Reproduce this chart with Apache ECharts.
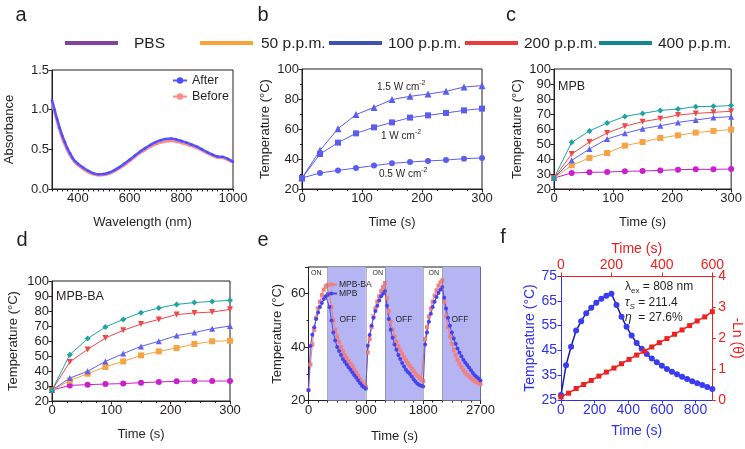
<!DOCTYPE html>
<html><head><meta charset="utf-8">
<script src="https://cdn.jsdelivr.net/npm/echarts@6/dist/echarts.min.js"></script>
<style>html,body{margin:0;padding:0;background:#fff}#c{width:745px;height:449px}</style>
</head><body><div id="c"></div><script>
const FONT = "'Liberation Sans', Arial, sans-serif";
const INK = '#231f20';
const BLUE_F = '#2f2ff0';
const RED_F = '#f02020';

// ---- Panel a : absorbance ----
const aWavelength = [300,310,320,330,340,350,360,370,380,390,400,420,440,460,480,500,520,540,560,580,600,620,640,660,680,700,720,740,760,780,800,820,840,860,880,900,920,940,960,980,1000];
const aAfter  = [1.12,1.0,0.88,0.77,0.67,0.59,0.51,0.45,0.39,0.35,0.32,0.27,0.23,0.2,0.185,0.19,0.205,0.235,0.275,0.32,0.37,0.42,0.47,0.515,0.555,0.59,0.615,0.63,0.635,0.625,0.605,0.585,0.56,0.535,0.5,0.465,0.435,0.41,0.405,0.38,0.345];
const aBefore = [1.08,0.96,0.84,0.73,0.63,0.55,0.48,0.42,0.37,0.33,0.3,0.25,0.21,0.185,0.17,0.175,0.19,0.22,0.26,0.3,0.35,0.4,0.45,0.49,0.53,0.56,0.585,0.6,0.605,0.595,0.58,0.56,0.54,0.515,0.485,0.45,0.42,0.395,0.39,0.365,0.335];

// ---- Panel b : power dependence ----
const heatTime = [0,30,60,90,120,150,180,210,240,270,300];
const bPower15 = [27.3,45.8,60.2,69.6,74.4,79.6,81.8,83.3,85.1,88,88.9];
const bPower10 = [27.3,43.3,50.9,57.1,61.1,64.4,67.6,69.1,70.7,72.4,73.6];
const bPower05 = [27.3,30.7,32.4,34,35.6,37.1,38,38.7,39.3,40.2,40.7];

// ---- Panel c : MPB concentrations ----
const concNames = ['PBS','50 p.p.m.','100 p.p.m.','200 p.p.m.','400 p.p.m.'];
const cPBS = [27.3,30.7,31.1,31.3,31.8,32,32.4,32.9,33.1,33.1,33.3];
const c50  = [27.3,35.8,40.7,44,48.9,51.3,54,55.8,57.6,58.7,59.6];
const c100 = [27.3,39.1,46.7,53.3,57.1,60.2,62.2,64.4,66,67.6,68.2];
const c200 = [27.3,43.3,51.3,57.3,61.8,64.9,66.9,69.3,70.4,71.1,71.8];
const c400 = [27.3,51.1,58.7,64,68.4,70.4,72.4,73.3,74.9,75.1,75.6];

// ---- Panel d : MPB-BA concentrations ----
const dPBS = [27.3,30.4,30.9,31.3,31.6,32.2,32.7,33.1,33.3,33.3,33.3];
const d50  = [27.3,33.6,38.2,42.7,46.4,50.4,53.1,55.3,58,59.8,60.2];
const d100 = [27.3,35.3,39.8,46.4,51.6,56.4,59.8,63.6,65.6,68.2,70];
const d200 = [27.3,46,54.4,62,67.1,71.3,74.4,77.6,78.7,79.3,81.1];
const d400 = [27.3,50.9,61.6,69.3,74.4,78.9,82,84.4,85.6,86.4,87.1];

// ---- Panel e : on/off cycles ----
const eTime = [0,30,60,90,120,150,180,210,240,270,300,330,360,390,420,450,480,510,540,570,600,630,660,690,720,750,780,810,840,870,900,930,960,990,1020,1050,1080,1110,1140,1170,1200,1230,1260,1290,1320,1350,1380,1410,1440,1470,1500,1530,1560,1590,1620,1650,1680,1710,1740,1770,1800,1830,1860,1890,1920,1950,1980,2010,2040,2070,2100,2130,2160,2190,2220,2250,2280,2310,2340,2370,2400,2430,2460,2490,2520,2550,2580,2610,2640,2670,2700];
const eMPBBA = [24,33.5,41,46.5,51,54.5,57,59.5,61.5,62.8,63.2,
  60,55,50,46.5,44,42,40,38.5,37,35.8,34.8,33.8,32.8,31.5,30.3,29.2,28,26.8,25.8,25,
  38,43,47.5,51.5,54.5,57,59,61,62.5,64,
  58.5,53.5,49.5,46.5,44,42,40.3,38.8,37.4,36.2,35,34,33,32,31,30,29.2,28.5,27.8,27.3,
  43,47.5,51.5,54.5,57,59.3,61.3,63,64.2,65,
  57,51.5,47.5,44,41.3,39,37,35.3,33.8,32.5,31.5,30.5,29.7,29,28.4,27.8,27.3,26.9,26.5,26.1];
const eMPB = [23.8,40.4,44.6,47.4,50.5,53,55,56.5,58,59,59.5,
  55,50,45.5,42.5,40,38.5,37,35.5,34.5,33.5,32.5,31.5,30.5,29.5,28.5,27.5,26.5,25.5,25,24.4,
  40.5,44.5,48,51,53.5,55.5,57.5,59,60,61,
  55.5,50.5,46.5,43.5,41,39,37,35.5,34,32.7,31.5,30.7,30,29,28,27,26.3,25.8,25.5,25.2,
  41,45.5,49.5,52.5,55,57,58.8,60.3,61.5,62.5,
  58.5,54.5,51,48,45.5,43.2,41.3,39.5,38,36.6,35.3,34.2,33.3,32.4,31.3,30.3,29.5,28.8,28.2,27.5];
const eOffIntervals = [[300,900],[1200,1800],[2100,2700]];
const eSwitchTimes = [300,900,1200,1800,2100];

// ---- Panel f : photothermal conversion ----
const fTime = [0,30,60,90,120,150,180,210,240,270,300,330,360,390,420,450,480,510,540,570,600,630,660,690,720,750,780,810,840,870,900];
const fTemp = [27,39,46.5,53,56.8,60,62.2,64.2,65.8,67,67.8,63.3,58.6,54.5,51,48,45.7,43.5,41.7,40.2,38.8,37.5,36.4,35.4,34.4,33.5,32.6,31.8,31,30.2,29.4];
const fCoolTime = [0,30,60,90,120,150,180,210,240,270,300,330,360,390,420,450,480,510,540,570,600];
const fLnTheta = [0.1,0.22,0.37,0.5,0.63,0.77,0.9,1.03,1.17,1.31,1.45,1.57,1.71,1.85,1.98,2.12,2.26,2.4,2.55,2.68,2.85];

function pairs(xs, ys) { return xs.map((x, i) => [x, ys[i]]); }

const chart = echarts.init(document.getElementById('c'), null, {renderer: 'canvas'});

function frame(g) { return Object.assign({show: true, borderColor: INK, borderWidth: 1, backgroundColor: 'transparent'}, g); }
function vAxis(o) {
  const color = o.color || INK;
  return {
    type: 'value', gridIndex: o.grid, position: o.position, min: o.min, max: o.max, interval: o.interval,
    axisLine: {show: true, onZero: false, lineStyle: {color: color, width: 1}},
    axisTick: {show: true, length: o.tickLen || 3.5, lineStyle: {color: color, width: 1}},
    minorTick: {show: !!o.minor, splitNumber: o.minor || 5, length: 2, lineStyle: {color: color, width: 1}},
    splitLine: {show: false},
    axisLabel: {fontFamily: FONT, fontSize: o.fs || 13, color: color, margin: o.margin == null ? 3 : o.margin,
      formatter: o.fmt || (v => String(v)), showMaxLabel: o.showMax},
    name: o.name, nameLocation: 'middle', nameGap: o.nameGap, nameRotate: o.nameRotate,
    nameTextStyle: {fontFamily: FONT, fontSize: o.nfs || 13, color: color}
  };
}

const grids = [
  frame({left: 52, top: 70, width: 181, height: 119}),
  frame({left: 302, top: 69, width: 180, height: 120}),
  frame({left: 554, top: 69, width: 178, height: 120}),
  frame({left: 52, top: 281, width: 178, height: 120}),
  frame({left: 308.5, top: 267, width: 172, height: 133.5}),
  {left: 561, top: 276, width: 153, height: 124, show: false}
];

const xAxes = [
  vAxis({grid: 0, min: 300, max: 1000, interval: 20, tickLen: 2.5, margin: 3,
    fmt: v => (v % 200 === 0 && v >= 400) ? String(v) : '', name: 'Wavelength (nm)', nameGap: 27}),
  vAxis({grid: 1, min: 0, max: 300, interval: 100, minor: 4, margin: 3, name: 'Time (s)', nameGap: 27}),
  vAxis({grid: 2, min: 0, max: 300, interval: 100, minor: 4, margin: 3, name: 'Time (s)', nameGap: 27}),
  vAxis({grid: 3, min: 0, max: 300, interval: 100, minor: 4, margin: 3, name: 'Time (s)', nameGap: 27}),
  vAxis({grid: 4, min: 0, max: 2700, interval: 900, minor: 6, margin: 3, name: 'Time (s)', nameGap: 29}),
  vAxis({grid: 5, min: 0, max: 900, interval: 200, color: BLUE_F, fs: 14, nfs: 14, margin: 3, showMax: false,
    fmt: v => v > 800 ? '' : String(v), name: 'Time (s)', nameGap: 24}),
  vAxis({grid: 5, position: 'top', min: 0, max: 600, interval: 200, color: RED_F, fs: 14, nfs: 14, margin: 4,
    name: 'Time (s)', nameGap: 20})
];
const yAxes = [
  vAxis({grid: 0, min: 0, max: 1.5, interval: 0.5, fmt: v => v.toFixed(1), name: 'Absorbance', nameGap: 36}),
  vAxis({grid: 1, min: 20, max: 100, interval: 20, minor: 2, name: 'Temperature (°C)', nameGap: 30}),
  vAxis({grid: 2, min: 20, max: 100, interval: 10, name: 'Temperature (°C)', nameGap: 30}),
  vAxis({grid: 3, min: 20, max: 100, interval: 10, name: 'Temperature (°C)', nameGap: 32}),
  vAxis({grid: 4, min: 20, max: 70, interval: 20, minor: 2, showMax: false, name: 'Temperature (°C)', nameGap: 25}),
  vAxis({grid: 5, min: 25, max: 75, interval: 10, color: BLUE_F, fs: 14, nfs: 14, margin: 4, name: 'Temperature (°C)', nameGap: 22}),
  vAxis({grid: 5, position: 'right', min: 0, max: 4, interval: 1, color: RED_F, fs: 14, nfs: 14, margin: 6,
    name: '-Ln (θ)', nameGap: 17, nameRotate: -90})
];

const series = [];
// a
series.push({name: 'Before', type: 'line', xAxisIndex: 0, yAxisIndex: 0, data: pairs(aWavelength, aBefore),
  symbol: 'none', smooth: true, lineStyle: {color: '#ff8a8a', width: 2.5}, itemStyle: {color: '#ff8a8a'}});
series.push({name: 'After', type: 'line', xAxisIndex: 0, yAxisIndex: 0, data: pairs(aWavelength, aAfter),
  symbol: 'circle', symbolSize: 2.5, smooth: true, lineStyle: {color: '#5555ff', width: 2.5}, itemStyle: {color: '#4a4aff'}});
// b
const bColor = '#5c5cef';
[[bPower15, 'triangle', 7], [bPower10, 'rect', 6], [bPower05, 'circle', 6]].forEach(([d, sym, sz], i) => {
  series.push({name: 'b' + i, type: 'line', xAxisIndex: 1, yAxisIndex: 1, data: pairs(heatTime, d),
    symbol: sym, symbolSize: sz, lineStyle: {color: bColor, width: 1}, itemStyle: {color: bColor}});
});
// c, d
const concColors = ['#cc1fcc', '#f7a243', '#5f5ff2', '#f04747', '#1fa3a3'];
const concSymbols = ['circle', 'rect', 'triangle', 'triangle', 'diamond'];
const concRot = [0, 0, 0, 180, 0];
const concSizes = [6, 6, 6, 6, 6];
[[cPBS, c50, c100, c200, c400], [dPBS, d50, d100, d200, d400]].forEach((set, p) => {
  set.forEach((d, i) => {
    series.push({name: (p ? 'MPB-BA ' : 'MPB ') + concNames[i], type: 'line', xAxisIndex: 2 + p, yAxisIndex: 2 + p,
      data: pairs(heatTime, d), symbol: concSymbols[i], symbolRotate: concRot[i], symbolSize: concSizes[i],
      lineStyle: {color: concColors[i], width: 1}, itemStyle: {color: concColors[i]}});
  });
});
// e
series.push({name: 'MPB-BA', type: 'line', xAxisIndex: 4, yAxisIndex: 4, data: pairs(eTime, eMPBBA),
  symbol: 'rect', symbolSize: 4, lineStyle: {color: '#f07a7a', width: 1}, itemStyle: {color: '#f28080'},
  markArea: {silent: true, itemStyle: {color: '#b5b5f4', opacity: 1},
    data: eOffIntervals.map(r => [{xAxis: r[0]}, {xAxis: r[1]}])},
  markLine: {silent: true, symbol: 'none', label: {show: false},
    lineStyle: {color: '#777', type: 'dotted', width: 1}, data: eSwitchTimes.map(t => ({xAxis: t}))}
});
series.push({name: 'MPB', type: 'line', xAxisIndex: 4, yAxisIndex: 4, data: pairs(eTime, eMPB),
  symbol: 'circle', symbolSize: 4, lineStyle: {color: '#4848f0', width: 1}, itemStyle: {color: '#4343f2'}});
// f
series.push({name: 'fTemp', type: 'line', xAxisIndex: 5, yAxisIndex: 5, data: pairs(fTime, fTemp),
  symbol: 'circle', symbolSize: 6, lineStyle: {color: '#1c1caa', width: 1.5}, itemStyle: {color: '#3b3bf2'}});
series.push({name: 'fLn', type: 'line', xAxisIndex: 6, yAxisIndex: 6, data: pairs(fCoolTime, fLnTheta),
  symbol: 'rect', symbolSize: 5, lineStyle: {color: RED_F, width: 1.5}, itemStyle: {color: RED_F}});

// ---- text / decorations ----
const g = [];
function txt(x, y, text, size, opts) {
  g.push(Object.assign({type: 'text', x: x, y: y, silent: true, z: 100,
    style: Object.assign({text: text, font: (size) + 'px ' + FONT, fill: INK, textAlign: 'left', textVerticalAlign: 'middle'},
      (opts && opts.style) || {})}, (opts && opts.el) || {}));
}
// panel letters
[['a', 21, 15], ['b', 263, 15], ['c', 511, 15], ['d', 22, 240], ['e', 263, 240], ['f', 503, 237]].forEach(([l, x, y]) =>
  txt(x, y, l, 20, {style: {textAlign: 'center'}}));
// top legend
const legColors = ['#8043a0', '#f9a23a', '#3f51b5', '#ee3b3b', '#14878f'];
const legLine = [65, 200, 329, 465, 599];
const legText = [134, 261, 388, 524, 658];
concNames.forEach((n, i) => {
  g.push({type: 'rect', silent: true, shape: {x: legLine[i], y: 41, width: 53, height: 4}, style: {fill: legColors[i]}});
  txt(legText[i], 44, n, 15.5);
});
// panel b labels
const supRich = {m: {fontSize: 10, fontFamily: FONT, fill: INK, lineHeight: 14}, s: {fontSize: 7, fontFamily: FONT, fill: INK, verticalAlign: 'top', lineHeight: 14}};
txt(377, 87, '{m|1.5 W cm}{s|-2}', 10, {style: {rich: supRich}});
txt(381, 136, '{m|1 W cm}{s|-2}', 10, {style: {rich: supRich}});
txt(379, 174, '{m|0.5 W cm}{s|-2}', 10, {style: {rich: supRich}});
// panel c/d labels
txt(558, 87, 'MPB', 12.5);
txt(56, 297, 'MPB-BA', 12.5);
// panel e labels
[311, 372.5, 428.5].forEach(x => txt(x, 273, 'ON', 7));
[348, 404, 460].forEach(x => txt(x, 320, 'OFF', 8.5, {style: {textAlign: 'center'}}));
// panel f annotation
const fr = {
  m: {fontSize: 12, fontFamily: FONT, fill: INK, lineHeight: 16},
  i: {fontSize: 12, fontFamily: FONT, fill: INK, fontStyle: 'italic', lineHeight: 16},
  sb: {fontSize: 8, fontFamily: FONT, fill: INK, verticalAlign: 'bottom', lineHeight: 16},
  si: {fontSize: 8, fontFamily: FONT, fill: INK, fontStyle: 'italic', verticalAlign: 'bottom', lineHeight: 16}
};
txt(625, 287, '{m|λ}{sb|ex}{m| = 808 nm}', 12, {style: {rich: fr}});
txt(625, 303, '{i|τ}{si|S}{m| = 211.4}', 12, {style: {rich: fr}});
txt(625, 318, '{i|η}{m|  = 27.6%}', 12, {style: {rich: fr}});

chart.setOption({
  animation: false,
  backgroundColor: '#fff',
  textStyle: {fontFamily: FONT},
  grid: grids,
  xAxis: xAxes,
  yAxis: yAxes,
  legend: [
    {data: ['After', 'Before'], left: 172, top: 74, orient: 'vertical', itemWidth: 14, itemHeight: 8, itemGap: 3,
      padding: 0, selectedMode: false, textStyle: {fontFamily: FONT, fontSize: 12.5, color: INK}},
    {data: ['MPB-BA', 'MPB'], left: 325, top: 280, orient: 'vertical', itemWidth: 11, itemHeight: 5, itemGap: 0,
      padding: 0, selectedMode: false, textStyle: {fontFamily: FONT, fontSize: 8.5, color: INK, lineHeight: 9, padding: [0, 0, 0, -3]}}
  ],
  series: series,
  graphic: g
});
</script></body></html>
